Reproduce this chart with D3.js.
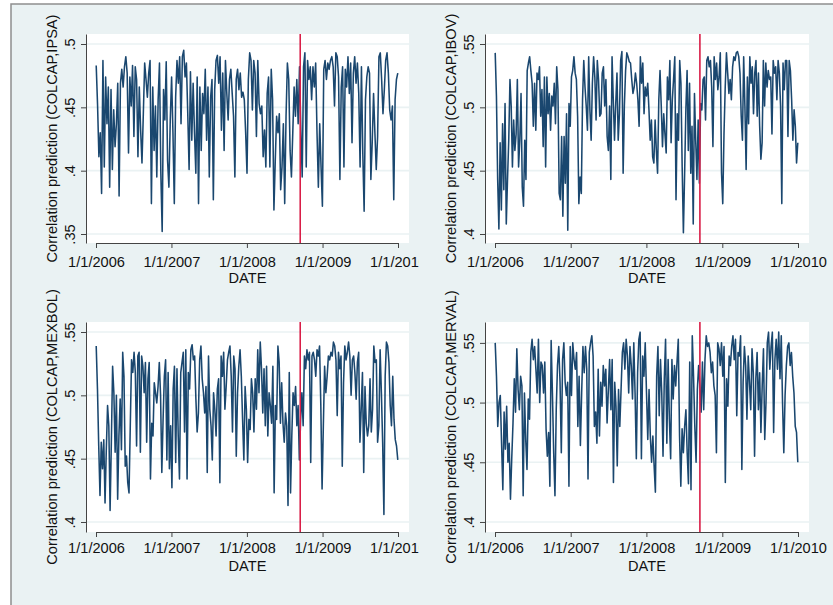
<!DOCTYPE html>
<html>
<head>
<meta charset="utf-8">
<script src="https://cdn.jsdelivr.net/npm/d3@7"></script>
<style>
  body { margin: 0; background: #fff; }
  svg { display: block; font-family: "Liberation Sans", Arial, Helvetica, sans-serif; }
</style>
</head>
<body>
<svg id="chart" width="833" height="605"></svg>
<script>
// weekly-ish correlation predictions (2006 - 2009)
var ipsa = [
  .483,.452,.411,.430,.382,.487,.403,.474,.437,.466,.387,.464,.401,.448,.419,.437,.469,.380,.469,.480,
  .466,.482,.490,.477,.414,.474,.451,.483,.427,.482,.472,.411,.466,.432,.406,.445,.485,.472,.458,.477,
  .487,.374,.466,.416,.451,.395,.456,.485,.398,.352,.464,.440,.486,.408,.387,.440,.474,.430,.374,.458,
  .487,.469,.490,.437,.490,.495,.474,.485,.445,.401,.478,.424,.469,.430,.398,.474,.374,.466,.416,.461,
  .445,.480,.424,.466,.395,.458,.472,.377,.464,.487,.491,.469,.490,.432,.477,.416,.487,.461,.440,.472,
  .480,.461,.443,.395,.472,.480,.464,.477,.458,.462,.456,
  .430,.398,.472,.493,.487,.448,.487,.477,.427,.487,.453,.445,.451,.411,.432,.403,.461,.474,.403,
  .480,.456,.369,.408,.443,.430,.445,.385,.403,.437,.374,.443,.485,.472,.416,.395,.430,.466,.443,.472,
  .437,.482,.432,.395,.482,.493,.403,.487,.472,.482,.456,.482,.466,.485,.430,.387,.437,.403,.372,.480,
  .487,.472,.485,.480,.487,.490,.482,.451,.493,.490,.474,.393,.466,.482,.403,.480,.466,.490,.461,.485,
  .422,.477,.490,.469,.485,.461,.403,.482,.414,.368,.456,.474,.482,.477,.393,.422,.461,.430,.401,.427,
  .490,.493,.472,.445,.464,.487,.493,.477,.448,.440,.451,.377,.456,.472,.477
];
var ibov = [
  .543,.509,.443,.404,.472,.419,.487,.435,.503,.408,.443,.474,.522,.501,.453,.490,.466,.479,.522,.453,
  .474,.511,.437,.422,.474,.443,.529,.535,.540,.529,.519,.485,.519,.482,.527,.522,.532,.493,.514,.469,
  .524,.453,.524,.495,.511,.482,.509,.501,.519,.487,.532,.514,.432,.427,.477,.414,.477,.440,.495,.403,
  .503,.485,.524,.529,.540,.527,.522,.493,.424,.445,.432,.506,.537,.516,.501,.482,.540,.498,.474,.519,
  .540,.524,.490,.537,.522,.493,.495,.527,.532,.501,.522,.477,.466,.501,.443,.540,.506,.474,.503,.527,
  .474,.495,.537,.544,.448,.501,.529,.543,.540,.536,.535,.522,.511,.516,.527,.519,.506,.485,.540,.519,
  .535,.495,.516,.509,.519,.498,.474,.490,.461,.456,
  .490,.466,.448,.506,.529,.501,.469,.495,.479,.464,.524,.506,.537,.472,.506,.522,.540,.427,.495,.474,
  .537,.519,.453,.401,.448,.498,.529,.466,.519,.448,.485,.408,.511,.474,.443,.490,.440,.503,.498,.522,
  .524,.490,.537,.540,.532,.537,.516,.469,.540,.522,.535,.514,.524,.543,.448,.424,.479,.516,.543,.527,
  .511,.522,.506,.532,.540,.537,.543,.544,.540,.527,.493,.474,.540,.501,.451,.524,.487,.540,.519,.532,
  .495,.527,.537,.493,.527,.485,.459,.472,.537,.501,.535,.516,.529,.522,.524,.479,.537,.527,.532,.506,
  .537,.527,.501,.424,.535,.514,.537,.537,.477,.537,.529,.506,.474,.498,.485,.456,.472
];
var mexbol = [
  .539,.505,.460,.421,.463,.442,.465,.415,.457,.492,.476,.409,.463,.523,.502,.455,.500,.418,.468,.497,
  .457,.534,.515,.444,.452,.431,.423,.476,.528,.518,.534,.518,.460,.531,.534,.455,.531,.523,.502,.526,
  .463,.513,.526,.434,.478,.468,.510,.502,.494,.507,.526,.500,.439,.481,.515,.528,.449,.518,.442,.476,
  .427,.505,.523,.447,.521,.468,.434,.518,.526,.534,.471,.536,.434,.518,.505,.536,.540,.528,.531,.497,
  .471,.486,.528,.539,.513,.502,.486,.507,.439,.531,.489,.476,.449,.502,.489,.468,.505,.513,.431,.531,
  .515,.534,.489,.507,.528,.534,.539,.515,.471,.531,.521,.452,.502,.523,.536,.515,.481,.449,.507,.489,
  .447,.481,.473,.513,
  .502,.471,.513,.489,.536,.502,.542,.521,.486,.521,.476,.523,.468,.502,.492,.478,.523,.423,.492,.481,
  .539,.526,.478,.510,.478,.463,.486,.476,.413,.518,.423,.468,.502,.492,.507,.476,.492,.449,.481,.502,
  .476,.531,.521,.536,.528,.534,.447,.531,.534,.528,.515,.536,.531,.539,.492,.426,.476,.523,.502,.515,
  .531,.528,.534,.531,.542,.539,.528,.484,.534,.521,.531,.444,.510,.539,.528,.534,.542,.531,.500,.528,
  .531,.518,.497,.526,.534,.463,.489,.518,.439,.507,.478,.468,.476,.513,.471,.489,.539,.526,.528,.463,
  .476,.536,.502,.463,.406,.515,.542,.539,.526,.492,.476,.515,.481,.465,.460,.449
];
var merval = [
  .550,.522,.480,.500,.506,.466,.427,.492,.461,.497,.450,.466,.419,.453,.483,.520,.492,.545,.511,.494,
  .522,.514,.422,.508,.469,.444,.503,.486,.542,.553,.536,.547,.528,.508,.553,.500,.534,.531,.508,.534,
  .478,.455,.475,.430,.552,.508,.458,.422,.494,.531,.547,.517,.458,.536,.550,.517,.506,.517,.430,.547,
  .506,.550,.536,.528,.542,.480,.522,.464,.508,.547,.525,.547,.528,.436,.542,.550,.556,.539,.480,.492,
  .466,.528,.472,.517,.497,.531,.514,.528,.483,.511,.536,.494,.536,.433,.517,.497,.447,.511,.480,.511,
  .542,.550,.528,.553,.539,.508,.547,.531,.503,.550,.508,.453,.525,.553,.559,.453,.539,.522,.550,.508,
  .469,.511,.472,.450,
  .472,.447,.425,.522,.547,.489,.536,.508,.455,.520,.553,.466,.536,.486,.453,.536,.503,.531,.514,.534,
  .553,.472,.430,.478,.458,.480,.494,.458,.432,.534,.427,.556,.522,.480,.450,.511,.531,.514,.492,.534,
  .494,.536,.556,.547,.550,.542,.525,.534,.514,.506,.458,.550,.545,.531,.550,.522,.547,.433,.520,.497,
  .539,.531,.547,.556,.536,.553,.489,.542,.539,.556,.444,.517,.547,.531,.486,.539,.517,.494,.545,.525,
  .455,.520,.542,.494,.525,.475,.514,.545,.469,.500,.550,.559,.528,.547,.559,.475,.536,.553,.528,.559,
  .520,.556,.500,.458,.506,.531,.547,.550,.531,.542,.522,.508,.480,.475,.450
];

var seriesStart = new Date(2006, 0, 2);
var seriesEnd = new Date(2009, 11, 31);
var xTickDates = [new Date(2006, 0, 1), new Date(2007, 0, 1), new Date(2008, 0, 1),
                  new Date(2009, 0, 1), new Date(2010, 0, 1)];
var breakDate = new Date(2008, 8, 15);

var panels = [
  { name: "IPSA",   values: ipsa,   yTicks: [.35, .4, .45, .5],  yMin: .3429, yMax: .5079,
    left: 86,  top: 34,  width: 323, height: 209, clipX: 0,   clipW: 419, labPad: 9, datePad: 40 },
  { name: "IBOV",   values: ibov,   yTicks: [.4, .45, .5, .55],  yMin: .3929, yMax: .5579,
    left: 485, top: 34,  width: 324, height: 209, clipX: 419, clipW: 414, labPad: 9, datePad: 40 },
  { name: "MEXBOL", values: mexbol, yTicks: [.4, .45, .5, .55],  yMin: .3921, yMax: .5579,
    left: 86,  top: 322, width: 323, height: 210, clipX: 0,   clipW: 419, labPad: 6, datePad: 39 },
  { name: "MERVAL", values: merval, yTicks: [.4, .45, .5, .55],  yMin: .3916, yMax: .5675,
    left: 485, top: 322, width: 324, height: 210, clipX: 419, clipW: 414, labPad: 6, datePad: 39 }
];

var navy = "#1a476f";
var bgBlue = "#eaf2f3";
var fontSize = 14.6;

var svg = d3.select("#chart");

// outer graph region (Stata style)
svg.append("rect")
  .attr("x", 11).attr("y", 4)
  .attr("width", 840).attr("height", 620)
  .attr("fill", bgBlue)
  .attr("stroke", "#8e8e8e")
  .attr("stroke-width", 1.5);

var defs = svg.append("defs");

var fmtY = function (d) { return d3.format(".2~f")(d).replace(/^0/, ""); };
var fmtX = function (d) { return (d.getMonth() + 1) + "/" + d.getDate() + "/" + d.getFullYear(); };

panels.forEach(function (p, i) {
  defs.append("clipPath").attr("id", "clip" + i)
    .append("rect")
    .attr("x", p.clipX).attr("y", 0)
    .attr("width", p.clipW).attr("height", 605);

  var g = svg.append("g").attr("clip-path", "url(#clip" + i + ")");

  var x = d3.scaleTime()
    .domain([xTickDates[0], xTickDates[xTickDates.length - 1]])
    .range([p.left + 10, p.left + p.width - 11]);
  var y = d3.scaleLinear()
    .domain([p.yMin, p.yMax])
    .range([p.top + p.height, p.top]);

  var n = p.values.length;
  var when = d3.scaleLinear().domain([0, n - 1]).range([seriesStart.getTime(), seriesEnd.getTime()]);
  var data = p.values.map(function (v, k) { return { date: new Date(when(k)), value: v }; });

  // plot region
  g.append("rect")
    .attr("x", p.left).attr("y", p.top)
    .attr("width", p.width).attr("height", p.height)
    .attr("fill", "#fff");

  // grid
  g.selectAll(".grid")
    .data(p.yTicks)
    .enter()
    .append("line")
    .attr("x1", p.left).attr("x2", p.left + p.width)
    .attr("y1", function (d) { return y(d); })
    .attr("y2", function (d) { return y(d); })
    .attr("stroke", bgBlue)
    .attr("stroke-width", 1.6);

  // series
  var line = d3.line()
    .x(function (d) { return x(d.date); })
    .y(function (d) { return y(d.value); });

  g.append("path")
    .datum(data)
    .attr("d", line)
    .attr("fill", "none")
    .attr("stroke", navy)
    .attr("stroke-width", 1.55)
    .attr("stroke-linejoin", "round");

  // break line
  g.append("line")
    .attr("x1", x(breakDate)).attr("x2", x(breakDate))
    .attr("y1", p.top).attr("y2", p.top + p.height)
    .attr("stroke", "#d91e48")
    .attr("stroke-width", 1.6);

  // y axis
  var yAxis = g.append("g")
    .attr("transform", "translate(" + p.left + ",0)")
    .call(d3.axisLeft(y).tickValues(p.yTicks).tickFormat(fmtY).tickSize(5).tickSizeOuter(0));
  yAxis.select(".domain").attr("stroke", "#444");
  yAxis.selectAll(".tick line").attr("stroke", "#444");
  yAxis.selectAll(".tick text")
    .attr("x", null).attr("dy", null)
    .attr("transform", "translate(-11,0) rotate(-90)")
    .attr("text-anchor", "middle")
    .attr("fill", "#111")
    .style("font-size", fontSize + "px")
    .style("font-family", "inherit");

  // x axis
  var xAxis = g.append("g")
    .attr("transform", "translate(0," + (p.top + p.height) + ")")
    .call(d3.axisBottom(x).tickValues(xTickDates).tickFormat(fmtX).tickSize(5).tickSizeOuter(0).tickPadding(p.labPad));
  xAxis.select(".domain").attr("stroke", "#444");
  xAxis.selectAll(".tick line").attr("stroke", "#444");
  xAxis.selectAll(".tick text")
    .attr("fill", "#111")
    .style("font-size", fontSize + "px")
    .style("font-family", "inherit");

  // titles
  g.append("text")
    .attr("x", p.left + p.width / 2)
    .attr("y", p.top + p.height + p.datePad)
    .attr("text-anchor", "middle")
    .attr("fill", "#111")
    .style("font-size", fontSize + "px")
    .text("DATE");

  g.append("text")
    .attr("transform", "translate(" + (p.left - 29) + "," + (p.top + p.height / 2) + ") rotate(-90)")
    .attr("text-anchor", "middle")
    .attr("fill", "#111")
    .style("font-size", fontSize + "px")
    .text("Correlation prediction (COLCAP," + p.name + ")");
});
</script>
</body>
</html>
